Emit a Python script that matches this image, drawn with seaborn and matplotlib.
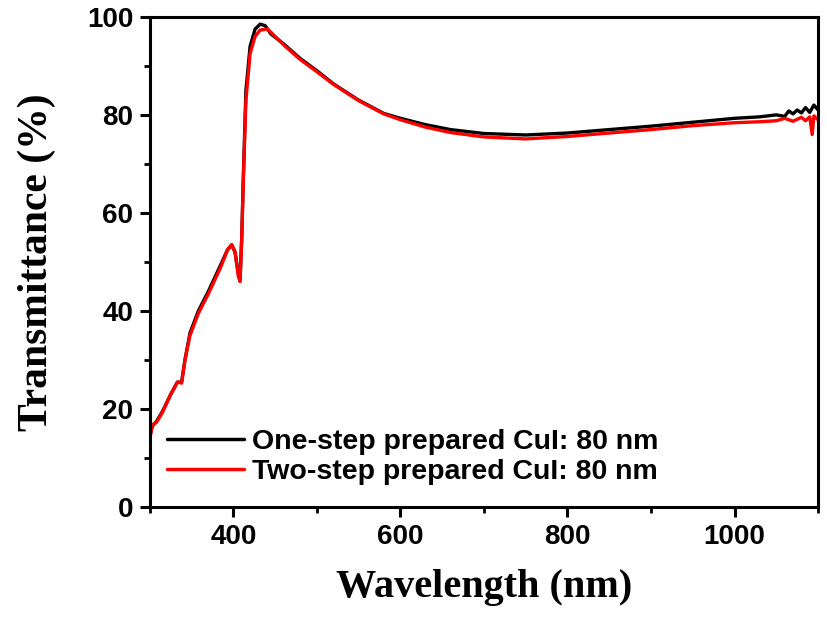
import numpy as np
import pandas as pd
import seaborn as sns
import matplotlib.pyplot as plt
from matplotlib.ticker import MultipleLocator

# one-step prepared CuI (black)
wl_one = [300, 303, 308, 315, 325, 333, 338, 342, 348, 358, 370, 385, 393, 398,
          402, 406, 408, 410, 412, 415, 420, 426, 432, 438, 445, 460, 480, 500,
          520, 550, 580, 600, 630, 660, 700, 750, 800, 850, 900, 950, 1000, 1030,
          1050, 1060, 1065, 1070, 1075, 1080, 1085, 1090, 1095, 1100]
tr_one = [14.5, 16.5, 17.5, 19.5, 23.0, 25.5, 25.5, 30.0, 35.5, 40.0, 44.0, 49.5, 52.5, 53.5,
          52.0, 47.5, 46.5, 55.0, 68.0, 85.0, 94.0, 97.5, 98.5, 98.2, 96.5, 94.5, 91.5, 89.0,
          86.3, 83.0, 80.3, 79.3, 78.0, 77.0, 76.2, 75.9, 76.3, 77.0, 77.7, 78.5, 79.3, 79.6,
          80.0, 79.7, 80.8, 80.2, 81.0, 80.4, 81.5, 80.5, 82.0, 81.0]

# two-step prepared CuI (red)
wl_two = [300, 303, 308, 315, 325, 333, 338, 342, 348, 358, 370, 385, 393, 398,
          402, 406, 408, 410, 412, 415, 420, 426, 432, 441, 450, 460, 480, 500,
          520, 550, 580, 600, 630, 660, 700, 750, 800, 850, 900, 950, 1000, 1030,
          1050, 1060, 1070, 1080, 1085, 1090, 1093, 1095, 1100]
tr_two = [14.0, 16.8, 17.3, 19.3, 23.0, 25.5, 25.3, 30.0, 35.0, 39.5, 43.5, 49.0, 52.5, 53.5,
          52.0, 47.0, 46.0, 55.0, 67.0, 83.0, 92.5, 96.0, 97.3, 97.5, 96.0, 94.3, 91.3, 88.8,
          86.2, 82.9, 80.2, 79.0, 77.5, 76.4, 75.5, 75.1, 75.6, 76.3, 77.0, 77.8, 78.4, 78.6,
          78.8, 79.3, 78.7, 79.5, 78.8, 79.6, 76.0, 79.8, 79.0]

labels = ["One-step prepared CuI: 80 nm", "Two-step prepared CuI: 80 nm"]
colors = ["black", "red"]

df = pd.concat([
    pd.DataFrame({"wl": wl_one, "T": tr_one, "sample": labels[0]}),
    pd.DataFrame({"wl": wl_two, "T": tr_two, "sample": labels[1]}),
])

sns.set_style("ticks", {"axes.edgecolor": "black", "text.color": "black",
                        "axes.labelcolor": "black", "xtick.color": "black",
                        "ytick.color": "black"})
plt.rcParams['font.family'] = ['Liberation Sans', 'DejaVu Sans']
plt.rcParams['font.weight'] = 'bold'

fig = plt.figure(figsize=(8.28, 6.23), dpi=100)
ax = fig.add_axes([0.181, 0.186, 0.807, 0.787])

sns.lineplot(data=df, x="wl", y="T", hue="sample", palette=colors,
             estimator=None, sort=False, linewidth=2.4, ax=ax)

ax.set_xlim(300, 1100)
ax.set_ylim(0, 100)
ax.xaxis.set_major_locator(MultipleLocator(200))
ax.xaxis.set_minor_locator(MultipleLocator(100))
ax.yaxis.set_major_locator(MultipleLocator(20))
ax.yaxis.set_minor_locator(MultipleLocator(10))
ax.set_xticks([400, 600, 800, 1000])

for s in ax.spines.values():
    s.set_visible(True)
    s.set_linewidth(2.2)
    s.set_color("black")
ax.tick_params(which='major', direction='out', length=7, width=2.2,
               labelsize=20, pad=5, colors='black')
ax.tick_params(which='minor', direction='out', length=4, width=2, colors='black')
for t in ax.get_xticklabels() + ax.get_yticklabels():
    t.set_fontweight('bold')

ax.set_xlabel("Wavelength (nm)", family='Liberation Serif', fontsize=29,
              fontweight='bold', labelpad=14, color='black')
ax.set_ylabel("Transmittance (%)", family='Liberation Serif', fontsize=30,
              fontweight='bold', labelpad=22, color='black')

leg = ax.legend(loc='lower left', bbox_to_anchor=(0.0, 0.01), frameon=False,
                fontsize=20.5, handlelength=2.7, handletextpad=0.3,
                labelspacing=0.14, borderaxespad=0.2)
for line in leg.get_lines():
    line.set_linewidth(2.5)
for t in leg.get_texts():
    t.set_fontweight('bold')
    t.set_color('black')

fig.savefig("out.png", dpi=100)
